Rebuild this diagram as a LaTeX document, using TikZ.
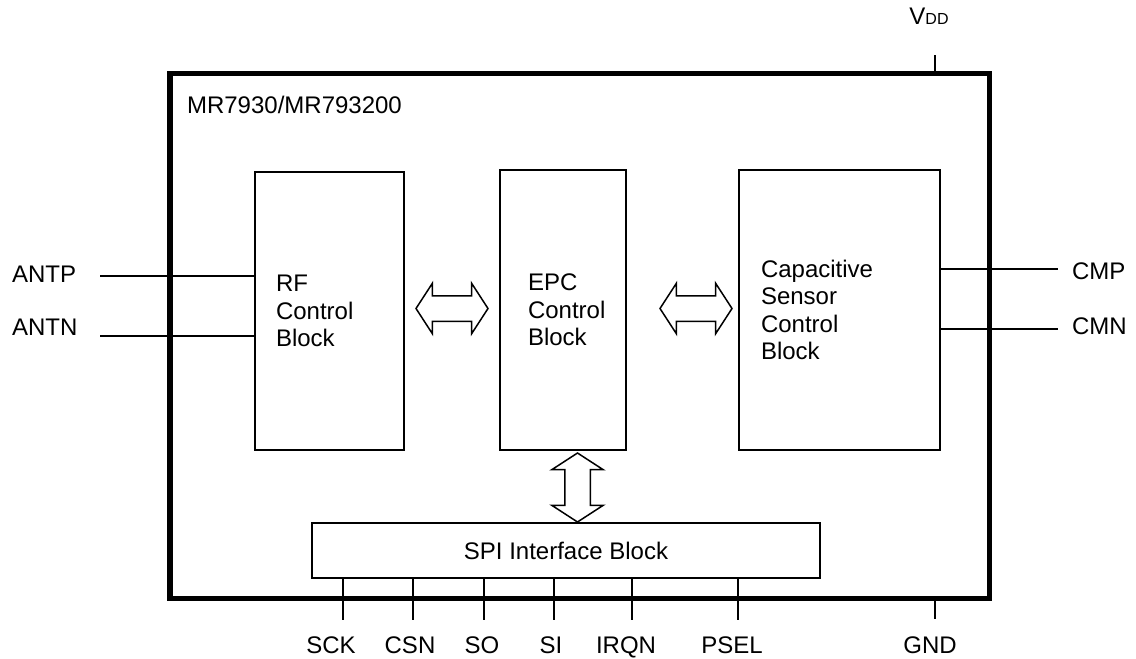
\documentclass[tikz,border=0pt]{standalone}
\usepackage{fontspec}
\setmainfont{Liberation Sans}
\usetikzlibrary{shapes.arrows}

\begin{document}
\begin{tikzpicture}[x=0.5pt,y=-0.5pt,
  font=\fontsize{12}{13.8}\selectfont,
  block/.style={draw, line width=0.75pt, align=left, inner ysep=0pt},
  bus/.style={draw, line width=0.75pt, double arrow, double arrow head extend=6.25pt,
    double arrow tip angle=114, inner sep=0pt, inner ysep=6pt},
  wire/.style={line width=0.75pt}]
\useasboundingbox (0,0) rectangle (1136,659);

\node[draw, line width=2.75pt, minimum width=409.75pt, minimum height=262.5pt] (chip) at (579.75,336) {};
\node[anchor=west] (partno) at (180,105) {MR7930/MR793200};

\node[block, text width=53.5pt, inner xsep=10.5pt, minimum height=139pt] (RF) at (329.5,311) {RF\\Control\\Block};
\node[block, text width=35pt, inner xsep=14pt, minimum height=140pt] (EPC) at (563,310) {EPC\\Control\\Block};
\node[block, text width=78.5pt, inner xsep=11pt, minimum height=140pt] (CapSense) at (839.5,310) {Capacitive\\Sensor\\Control\\Block};
\node[draw, line width=0.75pt, minimum width=254pt, minimum height=27.5pt] (SPI) at (566,550.5) {SPI Interface Block};

\node[bus, minimum height=36pt] (RF-EPC) at (452,308.5) {};
\node[bus, minimum height=36pt] (EPC-Cap) at (696,308.5) {};
\node[bus, minimum height=34.5pt, rotate=90, double arrow head extend=6.5pt] (EPC-SPI) at (577.5,487.5) {};

% antenna and sensor pins
\coordinate (ANTP-end) at (100,276);
\coordinate (ANTN-end) at (100,336);
\node[anchor=west] (ANTP) at (5,274) {ANTP};
\node[anchor=west] (ANTN) at (5,327) {ANTN};
\draw[wire] (ANTP-end) -- (ANTP-end -| RF.west);
\draw[wire] (ANTN-end) -- (ANTN-end -| RF.west);

\coordinate (CMP-end) at (1058,269);
\coordinate (CMN-end) at (1058,329);
\node[anchor=west] (CMP) at (1065,271) {CMP};
\node[anchor=west] (CMN) at (1065,326) {CMN};
\draw[wire] (CapSense.east |- CMP-end) -- (CMP-end);
\draw[wire] (CapSense.east |- CMN-end) -- (CMN-end);

% SPI pins
\foreach \pin/\px/\lx in {SCK/343/331, CSN/413/410, SO/484/482, SI/554/551, IRQN/632/626, PSEL/738/732} {
  \coordinate (\pin-end) at (\px,620);
  \draw[wire] (SPI.south -| \pin-end) -- (\pin-end);
  \node[anchor=base] (\pin) at (\lx,653) {\pin};
}

% supply
\coordinate (VDD-end) at (935,55);
\coordinate (GND-end) at (935,619);
\node (VDD) at (929,16) {V{\fontsize{8}{8}\selectfont DD}};
\node[anchor=base] (GND) at (930,653) {GND};
\draw[wire] (VDD-end) -- (chip.north -| VDD-end);
\draw[wire] (chip.south -| GND-end) -- (GND-end);

\end{tikzpicture}
\end{document}
